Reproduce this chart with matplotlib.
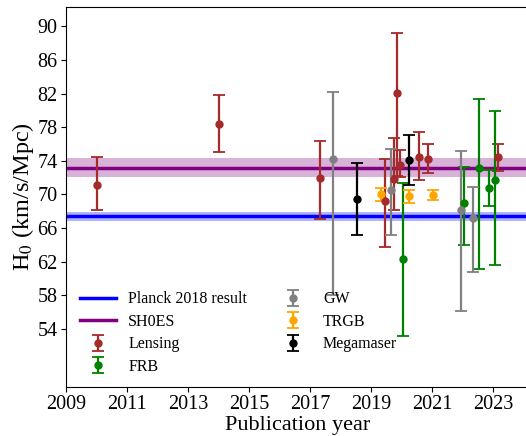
import matplotlib
matplotlib.use("Agg")
import matplotlib.pyplot as plt

plt.rcParams['font.family'] = ['Liberation Serif', 'DejaVu Serif']
plt.rcParams['mathtext.fontset'] = 'stix'

# Reference values
planck_h0, planck_err = 67.4, 0.5
shoes_h0, shoes_err = 73.2, 1.1

# Lensing
lens_year = [2010.0, 2014.03, 2017.34, 2019.45, 2019.74, 2019.84, 2019.96, 2020.56, 2020.86, 2023.17]
lens_h0 = [71.1, 78.4, 71.9, 69.2, 71.8, 82.1, 73.5, 74.4, 74.2, 74.4]
lens_hi = [3.4, 3.4, 4.5, 5.0, 4.9, 7.1, 1.8, 3.0, 1.8, 1.6]
lens_lo = [2.9, 3.4, 4.8, 5.5, 3.6, 9.9, 1.4, 2.7, 1.6, 1.6]

# FRB
frb_year = [2020.05, 2022.05, 2022.55, 2022.86, 2023.07]
frb_h0 = [62.3, 69.0, 73.2, 70.8, 71.7]
frb_hi = [9.1, 4.3, 8.1, 2.1, 8.2]
frb_lo = [9.1, 5.0, 12.1, 2.2, 10.1]

# GW
gw_year = [2017.74, 2019.66, 2021.95, 2022.35]
gw_h0 = [74.2, 70.5, 68.2, 67.2]
gw_hi = [8.0, 4.9, 7.0, 3.7]
gw_lo = [16.1, 5.3, 12.1, 6.4]

# TRGB
trgb_year = [2019.34, 2020.26, 2021.03]
trgb_h0 = [70.0, 69.8, 69.9]
trgb_hi = [0.8, 0.75, 0.6]
trgb_lo = [0.8, 0.8, 0.55]

# Megamaser
mega_year = [2018.54, 2020.26]
mega_h0 = [69.5, 74.1]
mega_hi = [4.2, 3.0]
mega_lo = [4.3, 3.0]

fig = plt.figure(figsize=(5.26, 4.36), dpi=100)
ax = fig.add_axes([0.1255, 0.1124, 0.8814, 0.8716])

xmin, xmax = 2009, 2024.2
ax.axhline(planck_h0, color='blue', lw=2.5, label='Planck 2018 result')
ax.fill_between([xmin, xmax], planck_h0 - planck_err, planck_h0 + planck_err,
                color='blue', alpha=0.3, lw=0)
ax.axhline(shoes_h0, color='purple', lw=2.5, label='SH0ES')
ax.fill_between([xmin, xmax], shoes_h0 - shoes_err, shoes_h0 + shoes_err,
                color='purple', alpha=0.3, lw=0)

kw = dict(fmt='o', ms=5, elinewidth=1.6, capsize=4.5, capthick=1.3)
ax.errorbar(lens_year, lens_h0, yerr=[lens_lo, lens_hi], color='brown', label='Lensing', **kw)
ax.errorbar(frb_year, frb_h0, yerr=[frb_lo, frb_hi], color='green', label='FRB', **kw)
ax.errorbar(gw_year, gw_h0, yerr=[gw_lo, gw_hi], color='grey', label='GW', **kw)
ax.errorbar(trgb_year, trgb_h0, yerr=[trgb_lo, trgb_hi], color='orange', label='TRGB', **kw)
ax.errorbar(mega_year, mega_h0, yerr=[mega_lo, mega_hi], color='black', label='Megamaser', **kw)

ax.set_xlim(xmin, xmax)
ax.set_ylim(47.1, 92.3)
ax.set_xticks(range(2009, 2024, 2))
ax.set_yticks(range(54, 91, 4))
ax.tick_params(labelsize=14.5, pad=2.5)
ax.set_xlabel('Publication year', fontsize=16, labelpad=1)
ax.set_ylabel('H$_0$ (km/s/Mpc)', fontsize=17.5, labelpad=1)

ax.legend(ncol=2, loc='lower left', frameon=False, fontsize=11.5,
          columnspacing=1.75, handlelength=2.2, labelspacing=0.4,
          bbox_to_anchor=(0.0, -0.005))

fig.savefig('out.png', dpi=100)
